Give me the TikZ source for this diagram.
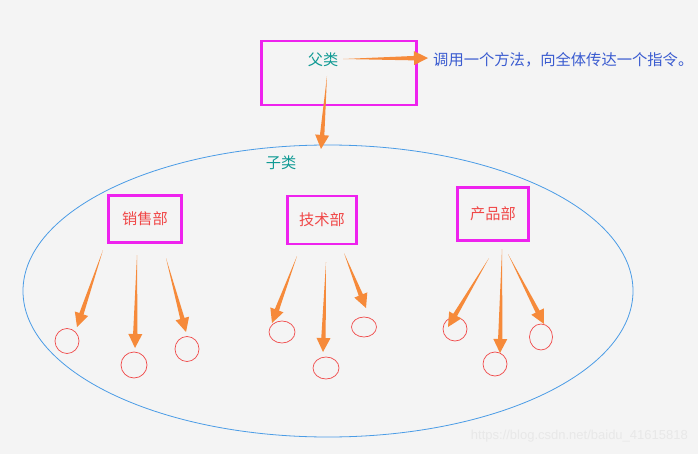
\documentclass[tikz,border=0pt]{standalone}
\usepackage{fontspec}
\setmainfont{Noto Sans CJK SC}
\newfontfamily\urlfont{Liberation Sans}
\usepackage{tikz}
\usetikzlibrary{shapes.geometric, calc, positioning}

\definecolor{boxpink}{HTML}{EE22EE}
\definecolor{arrorange}{HTML}{F68A3A}
\definecolor{deptred}{HTML}{F04848}
\definecolor{classteal}{HTML}{109A94}
\definecolor{noteblue}{HTML}{3A5BD0}
\definecolor{ringblue}{HTML}{4A9CE6}
\definecolor{paper}{HTML}{F4F4F4}

% tapered arrow: thin tail at #1, head tip at #2
\newcommand\fatarrow[2]{%
  \coordinate (fa-base) at ($(#2)!14pt!(#1)$);
  \fill[arrorange] (#1) -- ($(fa-base)!2.2pt!90:(#2)$) -- ($(fa-base)!7pt!90:(#2)$)
    -- (#2) -- ($(fa-base)!7pt!-90:(#2)$) -- ($(fa-base)!2.2pt!-90:(#2)$) -- cycle;}

\begin{document}
\begin{tikzpicture}[
        x=1pt, y=-1pt,
        cls/.style={font=\fontsize{15.2}{17}\selectfont, text=classteal, inner sep=0pt},
        dept/.style={draw=boxpink, line width=2.6pt, minimum width=70pt, minimum height=46pt, inner sep=0pt,
                     font=\fontsize{15.2}{17}\selectfont, text=deptred},
        member/.style={ellipse, draw=deptred, line width=0.7pt, inner sep=0pt},
    ]
        \fill[paper] (0,0) rectangle (698,454);
        \useasboundingbox (0,0) rectangle (698,454);

        % parent class
        \node[draw=boxpink, line width=2.6pt, minimum width=155pt, minimum height=64pt] (parent) at (339,73) {};
        \node[cls] (parentlabel) at (323,60) {父类};
        \node[font=\fontsize{15.3}{17}\selectfont, text=noteblue, inner sep=0pt, anchor=west] (note) at (433,60) {调用一个方法，向全体传达一个指令。};

        % subclasses
        \node[ellipse, draw=ringblue, line width=0.8pt, minimum width=610pt, minimum height=292pt, inner sep=0pt] (sub) at (328,291) {};
        \node[cls] (sublabel) at (281,163) {子类};

        \node[dept, minimum width=73pt, minimum height=47pt] (sales) at (145,219) {销售部};
        \node[dept, minimum width=69pt, minimum height=48pt] (tech) at (322,220) {技术部};
        \node[dept, minimum width=71pt, minimum height=53pt] (prod) at (493,214) {产品部};

        \node[member, minimum width=24pt, minimum height=25pt] (s1) at (67,341) {};
        \node[member, minimum width=26pt, minimum height=26pt] (s2) at (134,365) {};
        \node[member, minimum width=24pt, minimum height=25pt] (s3) at (187,349) {};
        \node[member, minimum width=26pt, minimum height=22pt] (t1) at (282,332) {};
        \node[member, minimum width=26pt, minimum height=22pt] (t2) at (326,368) {};
        \node[member, minimum width=25pt, minimum height=20pt] (t3) at (364,327) {};
        \node[member, minimum width=24pt, minimum height=24pt] (p1) at (455,329) {};
        \node[member, minimum width=24pt, minimum height=24pt] (p2) at (495,364) {};
        \node[member, minimum width=23pt, minimum height=26pt] (p3) at (541,337) {};

        % arrow ends
        \coordinate (noteend) at (428,58);
        \coordinate (parenttail) at (343,59);
        \coordinate (downtail) at (327,76);
        \coordinate (subtop) at (321,149);
        \coordinate (s1t) at (103,250); \coordinate (s1h) at (77,327);
        \coordinate (s2t) at (137,255); \coordinate (s2h) at (135,348);
        \coordinate (s3t) at (166,258); \coordinate (s3h) at (186,332);
        \coordinate (t1t) at (297,256); \coordinate (t1h) at (272,323);
        \coordinate (t2t) at (326,262); \coordinate (t2h) at (323,352);
        \coordinate (t3t) at (344,253); \coordinate (t3h) at (366,308);
        \coordinate (p1t) at (489,258); \coordinate (p1h) at (448,327);
        \coordinate (p2t) at (502,249); \coordinate (p2h) at (500,353);
        \coordinate (p3t) at (508,254); \coordinate (p3h) at (544,324);

        \fatarrow{parenttail}{noteend}
        \fatarrow{downtail}{subtop}
        \foreach \g in {s,t,p} {
            \foreach \i in {1,2,3} {
                \fatarrow{\g\i t}{\g\i h}
            }
        }

        \node[font=\urlfont\fontsize{13}{15}\selectfont, text=white!82!gray, inner sep=0pt, anchor=east] (mark) at (688,436) {https://blog.csdn.net/baidu\_41615818};
    \end{tikzpicture}
\end{document}
